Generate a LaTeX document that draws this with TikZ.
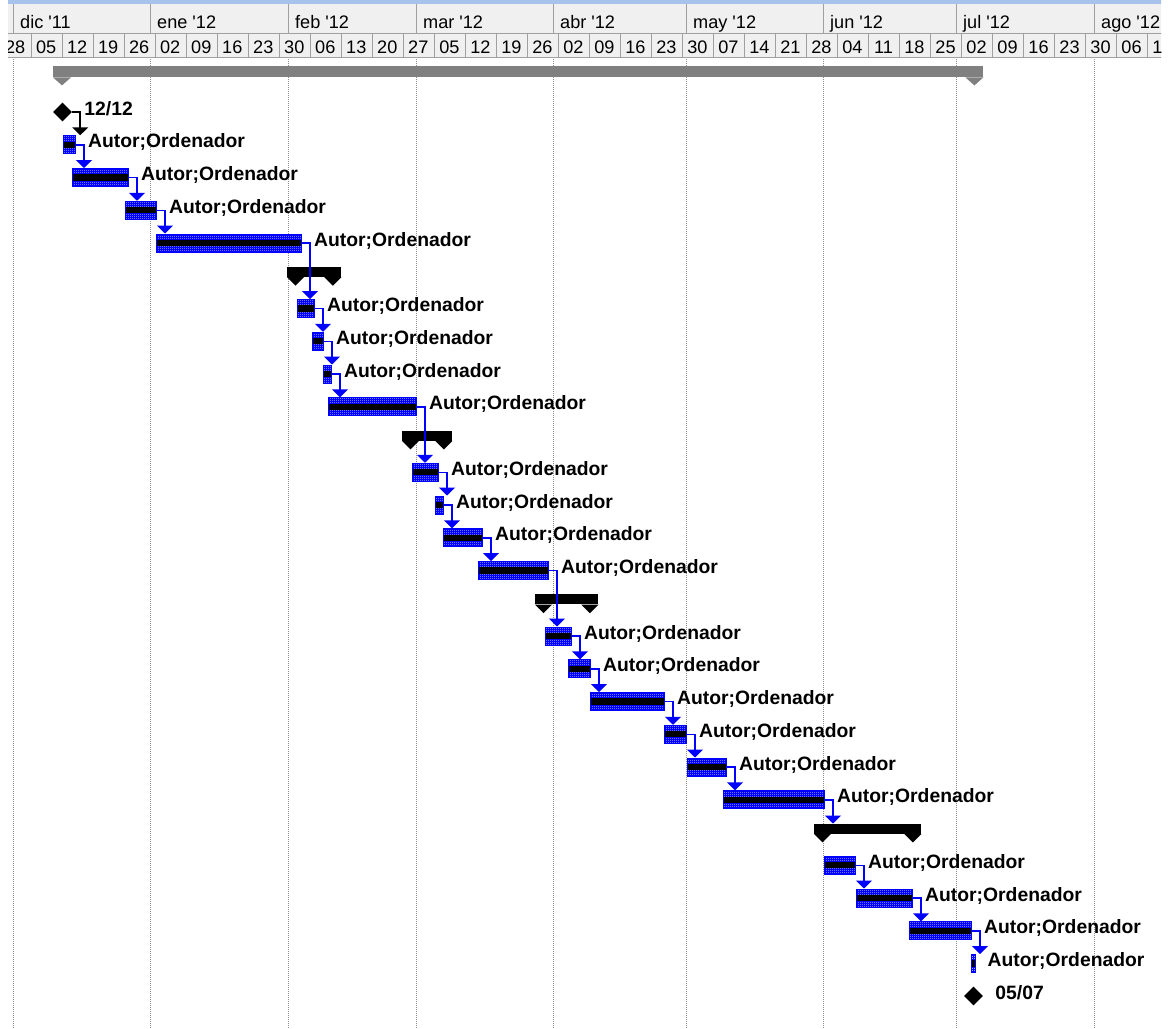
\documentclass[tikz,border=0pt]{standalone}
\usepackage{fontspec}
\setmainfont{Liberation Sans}
\usepackage{tikz}
\usetikzlibrary{arrows.meta, positioning, shapes.geometric, patterns}
\definecolor{Ink}{HTML}{000000}
\definecolor{Bar}{HTML}{0000FF}
\definecolor{Grid}{HTML}{A0A0A0}
\definecolor{Dots}{HTML}{8C8C8C}
\definecolor{HeadBg}{HTML}{F0F0F0}
\definecolor{HeadTop}{HTML}{A8C2EE}
\definecolor{Rollup}{HTML}{808080}
\pgfdeclarepatternformonly{finedots}{\pgfpointorigin}{\pgfqpoint{2bp}{2bp}}{\pgfqpoint{2bp}{2bp}}{%
  \pgfpathrectangle{\pgfpointorigin}{\pgfqpoint{1bp}{1bp}}\pgfusepath{fill}}

\begin{document}
\begin{tikzpicture}[
  x=1bp, y=-1bp,
  font=\fontsize{18.2}{20}\selectfont,
  month/.style={anchor=base west, inner sep=0pt, text=Ink},
  week/.style={anchor=base, inner sep=0pt, text=Ink},
  task/.style={draw=Bar, line width=1bp, inner sep=0pt, minimum height=18bp, anchor=west,
    preaction={fill=Bar}, pattern=finedots, pattern color=white,
    path picture={\fill[Ink] ([yshift=3.2bp]path picture bounding box.west) rectangle ([yshift=-3.2bp]path picture bounding box.east);}},
  rollup/.style={fill=Ink, inner sep=0pt, minimum height=10bp, anchor=north west},
  mile/.style={diamond, fill=Ink, inner sep=0pt, minimum width=19bp, minimum height=19bp},
  res/.style={font=\fontsize{19.4}{22}\selectfont\bfseries, inner sep=0pt, anchor=base west},
  link/.style={-{Triangle[width=16bp, length=8bp]}, line width=1.5bp, draw=Bar},
  milink/.style={link, draw=Ink}
]
\useasboundingbox (0,0) rectangle (1168,1029);

\begin{scope}
\clip (8,0) rectangle (1161,58);
\fill[HeadTop] (8,0) rectangle (1168,3.5);
\fill[HeadBg] (8,3.5) rectangle (1168,57.5);
\draw[Grid] (8,33.5) -- (1168,33.5) (8,57.5) -- (1168,57.5);
\foreach \x in {13,150,288,416,553,686,823,956,1094}
  \draw[Grid] (\x,3.5) -- (\x,33.5);
\foreach \x/\m [count=\i] in {13/dic, 150/ene, 288/feb, 416/mar, 553/abr, 686/may, 823/jun, 956/jul, 1094/ago}
  \node[month] (mo\i) at (\x+7,28) {\m\ \textquotesingle\ifnum\i=1 11\else 12\fi};
\foreach \i in {1,...,38}
  \draw[Grid] ({-0.29+31.01*\i},33.5) -- ++(0,24);
\foreach \d [count=\i from 0] in {28,05,12,19,26,02,09,16,23,30,06,13,20,27,05,12,19,26,02,09,16,23,30,07,14,21,28,04,11,18,25,02,09,16,23,30,06,13}
  \node[week] (wk\i) at ({15.2+31.01*\i},53) {\d};
\end{scope}

\foreach \x in {13,150,288,416,553,686,823,956,1094}
  \draw[Dots, line width=1bp, dash pattern=on 1bp off 1bp] (\x,59) -- (\x,1029);

\node[rollup, fill=Rollup, minimum height=11bp, minimum width=930bp] (s0) at (53,66) {};
\fill[Rollup] (s0.south west) -- ++(18,0) -- ++(-9,8) -- cycle
  (s0.south east) -- ++(-18,0) -- ++(9,8) -- cycle;

\node[mile] (ms0) at (62.5,112) {};
\node[res] (lm0) at ([xshift=12bp, yshift=-3bp]ms0.east) {12/12};

\foreach \n/\a/\b in {5/287/341, 10/402/452, 15/535/598, 22/814/921} {
  \node[rollup, minimum width={(\b-\a)*1bp}] (s\n) at (\a,{112+32.75*\n-9}) {};
  \fill[Ink] (s\n.south west) -- ++(17,0) -- ++(-8.5,8.5) -- cycle
    (s\n.south east) -- ++(-17,0) -- ++(8.5,8.5) -- cycle;
}

\foreach \n/\a/\b in {1/63/75, 2/72/128, 3/125/156, 4/156/301, 6/297/314, 7/312/323,
    8/323/331, 9/328/416, 11/412/438, 12/435/443, 13/443/482, 14/478/548, 16/545/571,
    17/568/590, 18/590/664, 19/664/686, 20/687/726, 21/723/824, 23/824/855,
    24/856/912, 25/909/971, 26/970.5/974.5} {
  \node[task, minimum width={(\b-\a)*1bp}] (t\n) at (\a,{112+32.75*\n}) {};
  \node[res] (l\n) at ([xshift=12bp, yshift=-3bp]t\n.east) {Autor;Ordenador};
}

\node[mile] (ms27) at (973.5,996) {};
\node[res] (lm27) at ([xshift=12bp, yshift=-3bp]ms27.east) {05/07};

\draw[milink] (ms0.east) -- ++(8,0) coordinate (k) -- (k |- t1.north);
\foreach \p/\s in {t1/t2, t2/t3, t3/t4, t4/t6, t6/t7, t7/t8, t8/t9, t9/t11, t11/t12,
    t12/t13, t13/t14, t14/t16, t16/t17, t17/t18, t18/t19, t19/t20, t20/t21, t21/s22,
    t23/t24, t24/t25, t25/t26}
  \draw[link] (\p.east) -- ++(8,0) coordinate (k) -- (k |- \s.north);
\end{tikzpicture}
\end{document}
